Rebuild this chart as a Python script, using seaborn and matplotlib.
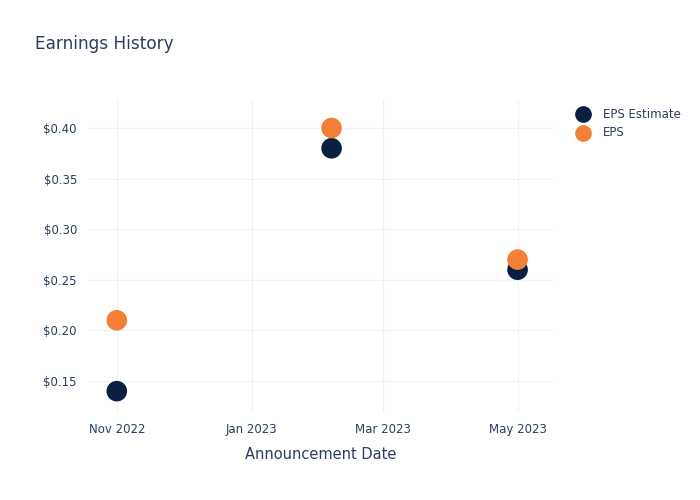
import pandas as pd
import matplotlib
matplotlib.use('Agg')
import matplotlib.pyplot as plt
import matplotlib.dates as mdates
from matplotlib.ticker import FuncFormatter
import seaborn as sns

dates = ['2022-11-01', '2023-02-06', '2023-05-01']
eps_estimate = [0.14, 0.38, 0.26]
eps_actual = [0.21, 0.40, 0.27]

data = pd.DataFrame({
    'Date': pd.to_datetime(dates * 2),
    'Value': eps_estimate + eps_actual,
    'Series': ['EPS Estimate'] * 3 + ['EPS'] * 3,
})

text_color = '#2a3f5f'
grid_color = '#eef1f8'
palette = {'EPS Estimate': '#0b1f43', 'EPS': '#f47f36'}

sns.set_style('white')
plt.rcParams['font.family'] = ['DejaVu Sans']

fig = plt.figure(figsize=(7, 5), dpi=100)
ax = fig.add_axes([88 / 700, 88 / 500, 465 / 700, 312 / 500])

sns.scatterplot(data=data, x='Date', y='Value', hue='Series', palette=palette,
                s=220, linewidth=0, ax=ax, zorder=3, legend=False)

ax.set_xlim(pd.Timestamp('2022-10-19'), pd.Timestamp('2023-05-17'))
ax.set_ylim(0.1194, 0.4277)
ax.set_xticks(pd.to_datetime(['2022-11-01', '2023-01-01', '2023-03-01', '2023-05-01']))
ax.xaxis.set_major_formatter(mdates.DateFormatter('%b %Y'))
ax.set_yticks([0.15, 0.20, 0.25, 0.30, 0.35, 0.40])
ax.yaxis.set_major_formatter(FuncFormatter(lambda v, p: f'${v:.2f}'))

ax.grid(True, color=grid_color, linewidth=0.8, zorder=0)
for s in ax.spines.values():
    s.set_visible(False)
ax.tick_params(length=0, labelsize=8.5, labelcolor=text_color, pad=8)
ax.set_xlabel('Announcement Date', fontsize=10.5, color=text_color, labelpad=8)
ax.set_ylabel('')

fig.text(35 / 700, 1 - 44 / 500, 'Earnings History', fontsize=12.2,
         color=text_color, va='center', ha='left')

# legend outside the plot
for i, name in enumerate(['EPS Estimate', 'EPS']):
    y = 1 - (114 + 19 * i) / 500
    fig.lines.append(plt.Line2D([583 / 700], [y], marker='o', markersize=11,
                                color=palette[name], linestyle='',
                                transform=fig.transFigure))
    fig.text(603 / 700, y, name, fontsize=8.5, color=text_color,
             va='center', ha='left')

plt.savefig('out.png', dpi=100)
